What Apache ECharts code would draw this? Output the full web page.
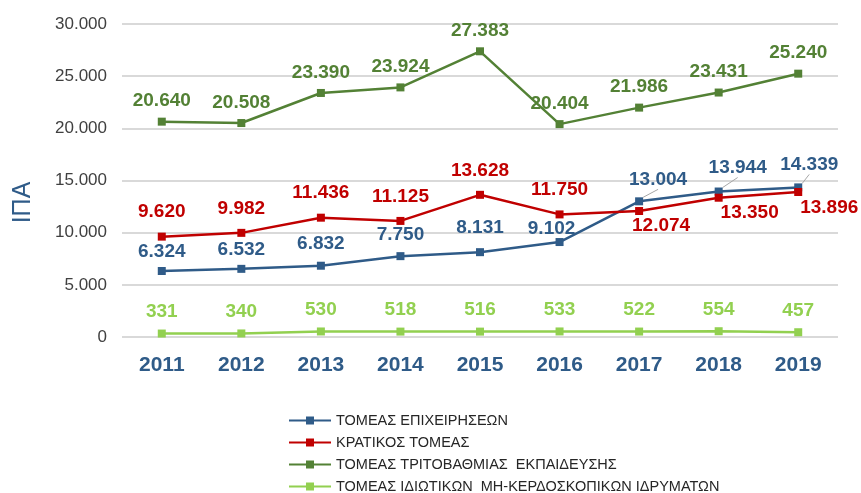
<!DOCTYPE html>
<html>
<head>
<meta charset="utf-8">
<script src="https://cdn.jsdelivr.net/npm/echarts@6/dist/echarts.min.js"></script>
<style>
    html, body { margin: 0; padding: 0; background: #fff; }
    #chart { width: 861px; height: 493px; }
</style>
</head>
<body>
<div id="chart"></div>
<script>
// 数据
const years = ['2011', '2012', '2013', '2014', '2015', '2016', '2017', '2018', '2019']
const business = [6324, 6532, 6832, 7750, 8131, 9102, 13004, 13944, 14339]
const government = [9620, 9982, 11436, 11125, 13628, 11750, 12074, 13350, 13896]
const higherEdu = [20640, 20508, 23390, 23924, 27383, 20404, 21986, 23431, 25240]
const privateNonProfit = [331, 340, 530, 518, 516, 533, 522, 554, 457]
const yTicks = [0, 5000, 10000, 15000, 20000, 25000, 30000]

const seriesNames = [
    'ΤΟΜΕΑΣ ΕΠΙΧΕΙΡΗΣΕΩΝ',
    'ΚΡΑΤΙΚΟΣ ΤΟΜΕΑΣ',
    'ΤΟΜΕΑΣ ΤΡΙΤΟΒΑΘΜΙΑΣ  ΕΚΠΑΙΔΕΥΣΗΣ',
    'ΤΟΜΕΑΣ ΙΔΙΩΤΙΚΩΝ  ΜΗ-ΚΕΡΔΟΣΚΟΠΙΚΩΝ ΙΔΡΥΜΑΤΩΝ'
]
const colors = ['#2F5B88', '#C00000', '#538135', '#92D050']

// 标签微调 (dx, dy)
const labelNudge = [
    [[0, 1], [0, 1], [0, -1], [0, -1], [0, -4], [-8, 7], [19, -1], [19, -3], [11, -2]],
    [[0, -4], [0, -4], [0, -4], [0, -4], [0, -4], [0, -4], [22, 35], [31, 36], [31, 36]],
    [[0, 0], [0, 0], [0, 0], [0, 0], [0, 0], [0, 0], [0, 0], [0, 0], [0, 0]],
    [[0, -1], [0, -1], [0, -1], [0, -1], [0, -1], [0, -1], [0, -1], [0, -1], [0, -1]]
]
const leaderIdx = [6, 7, 8]

// 希腊数字格式 20.640
function fmt(v) {
    return String(v).replace(/\B(?=(\d{3})+(?!\d))/g, '.')
}

function makeSeries(i, values) {
    return {
        name: seriesNames[i],
        type: 'line',
        symbol: 'rect',
        symbolSize: 8,
        color: colors[i],
        lineStyle: { width: 2.5, color: colors[i] },
        itemStyle: { color: colors[i] },
        data: values.map((v, k) => {
            const item = { value: v }
            if (i === 0 && leaderIdx.includes(k)) {
                item.labelLine = { show: true, lineStyle: { color: '#A6A6A6', width: 1 } }
            }
            return item
        }),
        label: {
            show: true,
            position: 'top',
            distance: 7,
            color: colors[i],
            fontSize: 19,
            fontWeight: 'bold',
            fontFamily: 'Liberation Sans, Arial, sans-serif',
            formatter: (p) => fmt(p.value)
        },
        labelLayout: (p) => ({ dx: labelNudge[i][p.dataIndex][0], dy: labelNudge[i][p.dataIndex][1] })
    }
}

const chart = echarts.init(document.getElementById('chart'))

const option = {
    animation: false,
    textStyle: { fontFamily: 'Liberation Sans, Arial, sans-serif' },
    grid: { left: 122, right: 23, top: 24, bottom: 156 },
    legend: {
        orient: 'vertical',
        left: 288,
        top: 413,
        height: 100,
        padding: 0,
        itemWidth: 42,
        itemHeight: 10,
        itemGap: 7,
        textStyle: { fontSize: 14.5, lineHeight: 14, color: '#262626' },
        data: seriesNames
    },
    xAxis: {
        type: 'category',
        data: years,
        boundaryGap: true,
        axisLine: { show: false },
        axisTick: { show: false },
        axisLabel: { color: '#2F5B88', fontSize: 21, fontWeight: 'bold', margin: 18 }
    },
    yAxis: {
        type: 'value',
        min: yTicks[0],
        max: yTicks[yTicks.length - 1],
        interval: yTicks[1] - yTicks[0],
        name: 'ΙΠΑ',
        nameLocation: 'middle',
        nameGap: 86,
        nameRotate: 90,
        nameTextStyle: { color: '#2F5B88', fontSize: 25, padding: [0, 44, 0, 0] },
        axisLine: { show: false },
        axisTick: { show: false },
        axisLabel: { color: '#404040', fontSize: 17, margin: 15, formatter: (v) => fmt(v) },
        splitLine: { lineStyle: { color: '#D9D9D9', width: 2 } }
    },
    series: [
        makeSeries(0, business),
        makeSeries(1, government),
        makeSeries(2, higherEdu),
        makeSeries(3, privateNonProfit)
    ]
}

option && chart.setOption(option)
</script>
</body>
</html>
